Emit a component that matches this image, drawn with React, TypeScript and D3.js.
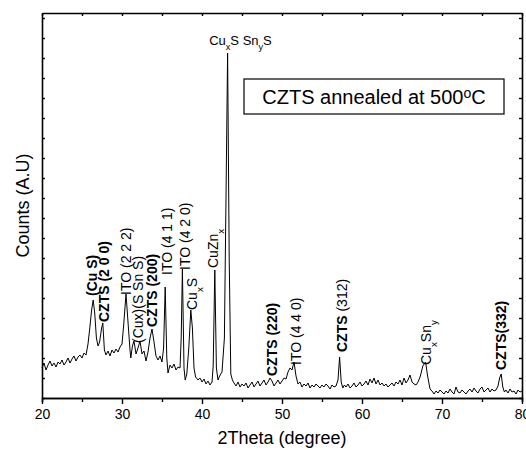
import React, { useEffect, useRef } from "react";
import * as d3 from "d3";

// XRD scan: [2theta, counts]
const pattern: [number, number][] = [
  [20.0, 150], [20.25, 175], [20.5, 140], [20.75, 165], [21.0, 185], [21.25, 160], [21.5, 175], [21.75, 155],
  [22.0, 180], [22.25, 170], [22.5, 190], [22.75, 165], [23.0, 180], [23.25, 200], [23.5, 175], [23.75, 195],
  [24.0, 210], [24.25, 185], [24.5, 205], [24.75, 215], [25.0, 200], [25.25, 225], [25.5, 215], [25.75, 270],
  [26.0, 360], [26.2, 440], [26.4, 490], [26.6, 420], [26.8, 300], [27.0, 260], [27.2, 280], [27.45, 350],
  [27.6, 375], [27.8, 240], [28.0, 215], [28.25, 235], [28.5, 210], [28.75, 240], [29.0, 225], [29.25, 245],
  [29.5, 230], [29.75, 255], [30.0, 270], [30.2, 360], [30.5, 520], [30.75, 380], [31.0, 240], [31.1, 200],
  [31.3, 260], [31.5, 285], [31.75, 220], [32.0, 250], [32.25, 285], [32.5, 220], [32.75, 235], [33.0, 185],
  [33.25, 230], [33.5, 300], [33.75, 345], [34.0, 280], [34.25, 210], [34.5, 190], [34.75, 210], [35.0, 180],
  [35.2, 250], [35.4, 555], [35.6, 200], [35.75, 125], [36.0, 165], [36.25, 150], [36.5, 170], [36.75, 140],
  [37.0, 155], [37.25, 150], [37.4, 300], [37.55, 645], [37.75, 150], [37.9, 90], [38.1, 120], [38.35, 250],
  [38.6, 440], [38.8, 350], [39.0, 150], [39.2, 105], [39.5, 90], [39.75, 100], [40.0, 80], [40.25, 95],
  [40.5, 70], [40.75, 85], [41.0, 65], [41.25, 80], [41.4, 160], [41.6, 640], [41.8, 150], [42.0, 90],
  [42.2, 110], [42.5, 130], [42.8, 300], [43.0, 1000], [43.2, 1725], [43.4, 700], [43.6, 120], [43.8, 90],
  [44.0, 75], [44.25, 60], [44.5, 80], [44.75, 55], [45.0, 70], [45.25, 60], [45.5, 75], [45.75, 50],
  [46.0, 65], [46.25, 80], [46.5, 55], [46.75, 70], [47.0, 85], [47.25, 60], [47.5, 75], [47.75, 90],
  [48.0, 65], [48.25, 80], [48.5, 100], [48.75, 85], [49.0, 60], [49.25, 75], [49.5, 90], [49.75, 70],
  [50.0, 85], [50.25, 100], [50.5, 95], [50.75, 130], [51.0, 150], [51.25, 140], [51.5, 180], [51.75, 110],
  [52.0, 70], [52.25, 80], [52.5, 55], [52.75, 70], [53.0, 60], [53.25, 75], [53.5, 50], [53.75, 65],
  [54.0, 55], [54.25, 70], [54.5, 60], [54.75, 50], [55.0, 65], [55.25, 55], [55.5, 70], [55.75, 60],
  [56.0, 45], [56.25, 65], [56.5, 55], [56.75, 60], [57.0, 90], [57.2, 205], [57.4, 80], [57.6, 50],
  [57.8, 65], [58.0, 55], [58.25, 70], [58.5, 50], [58.75, 60], [59.0, 75], [59.25, 55], [59.5, 65],
  [59.75, 80], [60.0, 60], [60.25, 70], [60.5, 85], [60.75, 65], [61.0, 95], [61.25, 75], [61.5, 100],
  [61.75, 70], [62.0, 90], [62.25, 65], [62.5, 75], [62.75, 60], [63.0, 70], [63.25, 55], [63.5, 65],
  [63.75, 75], [64.0, 60], [64.25, 80], [64.5, 70], [64.75, 90], [65.0, 65], [65.25, 100], [65.5, 75],
  [65.75, 90], [66.0, 115], [66.25, 80], [66.5, 70], [66.75, 65], [67.0, 80], [67.3, 110], [67.6, 160],
  [67.95, 180], [68.2, 110], [68.5, 45], [68.75, 35], [69.0, 20], [69.25, 35], [69.5, 25], [69.75, 40],
  [70.0, 30], [70.25, 20], [70.5, 35], [70.75, 25], [71.0, 45], [71.25, 30], [71.5, 20], [71.75, 55],
  [72.0, 30], [72.25, 25], [72.5, 40], [72.75, 30], [73.0, 20], [73.25, 35], [73.5, 45], [73.75, 30],
  [74.0, 50], [74.25, 35], [74.5, 25], [74.75, 45], [75.0, 55], [75.25, 30], [75.5, 40], [75.75, 50],
  [76.0, 30], [76.25, 45], [76.5, 35], [76.75, 40], [77.0, 60], [77.2, 100], [77.4, 120], [77.6, 55],
  [77.8, 30], [78.0, 40], [78.25, 25], [78.5, 45], [78.75, 30], [79.0, 35], [79.25, 20], [79.5, 40],
  [79.75, 30], [80.0, 35],
];

type Part = { t: string; bold?: boolean; sub?: boolean; sup?: boolean };

// vertical peak labels: angle, counts level where the label starts
const peakLabels: { theta: number; level: number; parts: Part[] }[] = [
  { theta: 26.3, level: 510, parts: [{ t: "(Cu S)", bold: true }] },
  { theta: 27.75, level: 380, parts: [{ t: "CZTS (2 0 0)", bold: true }] },
  { theta: 30.5, level: 515, parts: [{ t: "ITO (2 2 2)" }] },
  { theta: 32.0, level: 275, parts: [{ t: "(Cux)(S Sn S)" }] },
  { theta: 33.8, level: 355, parts: [{ t: "CZTS (200)", bold: true }] },
  { theta: 35.6, level: 615, parts: [{ t: "ITO (4 1 1)" }] },
  { theta: 37.9, level: 640, parts: [{ t: "ITO (4 2 0)" }] },
  { theta: 38.75, level: 440, parts: [{ t: "Cu" }, { t: "x", sub: true }, { t: "S" }] },
  { theta: 41.4, level: 650, parts: [{ t: "CuZn" }, { t: "x", sub: true }] },
  { theta: 48.8, level: 110, parts: [{ t: "CZTS (220)", bold: true }] },
  { theta: 51.7, level: 165, parts: [{ t: "ITO (4 4 0)" }] },
  { theta: 57.5, level: 230, parts: [{ t: "CZTS", bold: true }, { t: " (312)" }] },
  { theta: 68.0, level: 165, parts: [{ t: "Cu" }, { t: "x", sub: true }, { t: "Sn" }, { t: "y", sub: true }] },
  { theta: 77.4, level: 140, parts: [{ t: "CZTS(332)", bold: true }] },
];

// horizontal label over the main peak
const topLabel = { theta: 40.9, level: 1765, parts: [{ t: "Cu" }, { t: "x", sub: true }, { t: "S Sn" }, { t: "y", sub: true }, { t: "S" }] as Part[] };

const boxParts: Part[] = [{ t: "CZTS annealed at 500" }, { t: "o", sup: true }, { t: "C" }];

const xMajor = [20, 30, 40, 50, 60, 70, 80];
const xMinor = [25, 35, 45, 55, 65, 75];

const FONT = "'Liberation Sans', Arial, Helvetica, sans-serif";

function addParts(sel: d3.Selection<SVGTextElement, unknown, null, undefined>, parts: Part[]) {
  parts.forEach((p) => {
    const ts = sel.append("tspan").text(p.t).attr("font-weight", p.bold ? "bold" : "normal");
    if (p.sub) ts.attr("font-size", "0.7em").attr("baseline-shift", "sub");
    if (p.sup) ts.attr("font-size", "0.7em").attr("baseline-shift", "45%");
  });
}

export default function App() {
  const ref = useRef<SVGSVGElement>(null);

  useEffect(() => {
    const margin = { top: 13, right: 4, bottom: 52, left: 42 },
      width = 526 - margin.left - margin.right,
      height = 450 - margin.top - margin.bottom;

    const root = d3.select(ref.current);
    root.selectAll("*").remove();

    const svg = root.append("g").attr("transform", "translate(" + margin.left + "," + margin.top + ")");

    const x = d3.scaleLinear().domain([20, 80]).range([0, width]);
    const y = d3.scaleLinear().domain([0, 1925]).range([height, 0]);

    // the scan
    const line = d3.line<[number, number]>().x((d) => x(d[0])).y((d) => y(d[1]));
    svg.append("path")
      .datum(pattern)
      .attr("d", line)
      .attr("fill", "none")
      .attr("stroke", "#000")
      .attr("stroke-width", 1)
      .attr("stroke-linejoin", "round");

    // axes
    const styleAxis = (g: any) => {
      g.select(".domain").attr("stroke", "#000").attr("stroke-width", 1.6);
      g.selectAll(".tick line").attr("stroke", "#000").attr("stroke-width", 1.4);
      g.selectAll("text").attr("font-family", FONT).attr("font-size", 14).attr("fill", "#000");
    };

    svg.append("g")
      .attr("transform", "translate(0," + height + ")")
      .call(d3.axisBottom(x).tickValues(xMinor).tickSize(4).tickFormat(() => ""))
      .call(styleAxis);
    svg.append("g")
      .attr("transform", "translate(0," + height + ")")
      .call(d3.axisBottom(x).tickValues(xMajor).tickSizeInner(6).tickSizeOuter(0).tickPadding(5).tickFormat(d3.format("d")))
      .call(styleAxis);

    svg.append("g")
      .call(d3.axisTop(x).tickValues(d3.range(20, 81, 5)).tickSizeInner(-3).tickSizeOuter(0).tickFormat(() => ""))
      .call(styleAxis);

    const yTicks = d3.range(0, 1926, 100);
    svg.append("g")
      .call(d3.axisLeft(y).tickValues(yTicks).tickSizeInner(-3).tickSizeOuter(0).tickFormat(() => ""))
      .call(styleAxis);
    svg.append("g")
      .attr("transform", "translate(" + width + ",0)")
      .call(d3.axisRight(y).tickValues(yTicks).tickSizeInner(-3).tickSizeOuter(0).tickFormat(() => ""))
      .call(styleAxis);

    // axis titles
    svg.append("text")
      .attr("x", width / 2)
      .attr("y", height + 46)
      .attr("text-anchor", "middle")
      .attr("font-family", FONT)
      .attr("font-size", 18)
      .text("2Theta (degree)");
    svg.append("text")
      .attr("transform", "translate(" + (-13) + "," + height / 2 + ") rotate(-90)")
      .attr("text-anchor", "middle")
      .attr("font-family", FONT)
      .attr("font-size", 18)
      .text("Counts (A.U)");

    // peak labels
    peakLabels.forEach((l) => {
      const t = svg.append("text")
        .attr("transform", "translate(" + x(l.theta) + "," + y(l.level) + ") rotate(-90)")
        .attr("dy", "0.35em")
        .attr("font-family", FONT)
        .attr("font-size", 14);
      addParts(t, l.parts);
    });

    const tl = svg.append("text")
      .attr("x", x(topLabel.theta))
      .attr("y", y(topLabel.level))
      .attr("font-family", FONT)
      .attr("font-size", 13);
    addParts(tl, topLabel.parts);

    // annotation box
    const box = svg.append("g").attr("transform", "translate(" + (244 - margin.left) + "," + (79 - margin.top) + ")");
    box.append("rect")
      .attr("width", 260)
      .attr("height", 35)
      .attr("fill", "#fff")
      .attr("stroke", "#000")
      .attr("stroke-width", 1.2);
    const bt = box.append("text")
      .attr("x", 130)
      .attr("y", 25)
      .attr("text-anchor", "middle")
      .attr("font-family", FONT)
      .attr("font-size", 20);
    addParts(bt, boxParts);
  }, []);

  return (
    <svg
      ref={ref}
      width={526}
      height={450}
      style={{ position: "absolute", left: 0, top: 0, background: "#fff" }}
    />
  );
}
